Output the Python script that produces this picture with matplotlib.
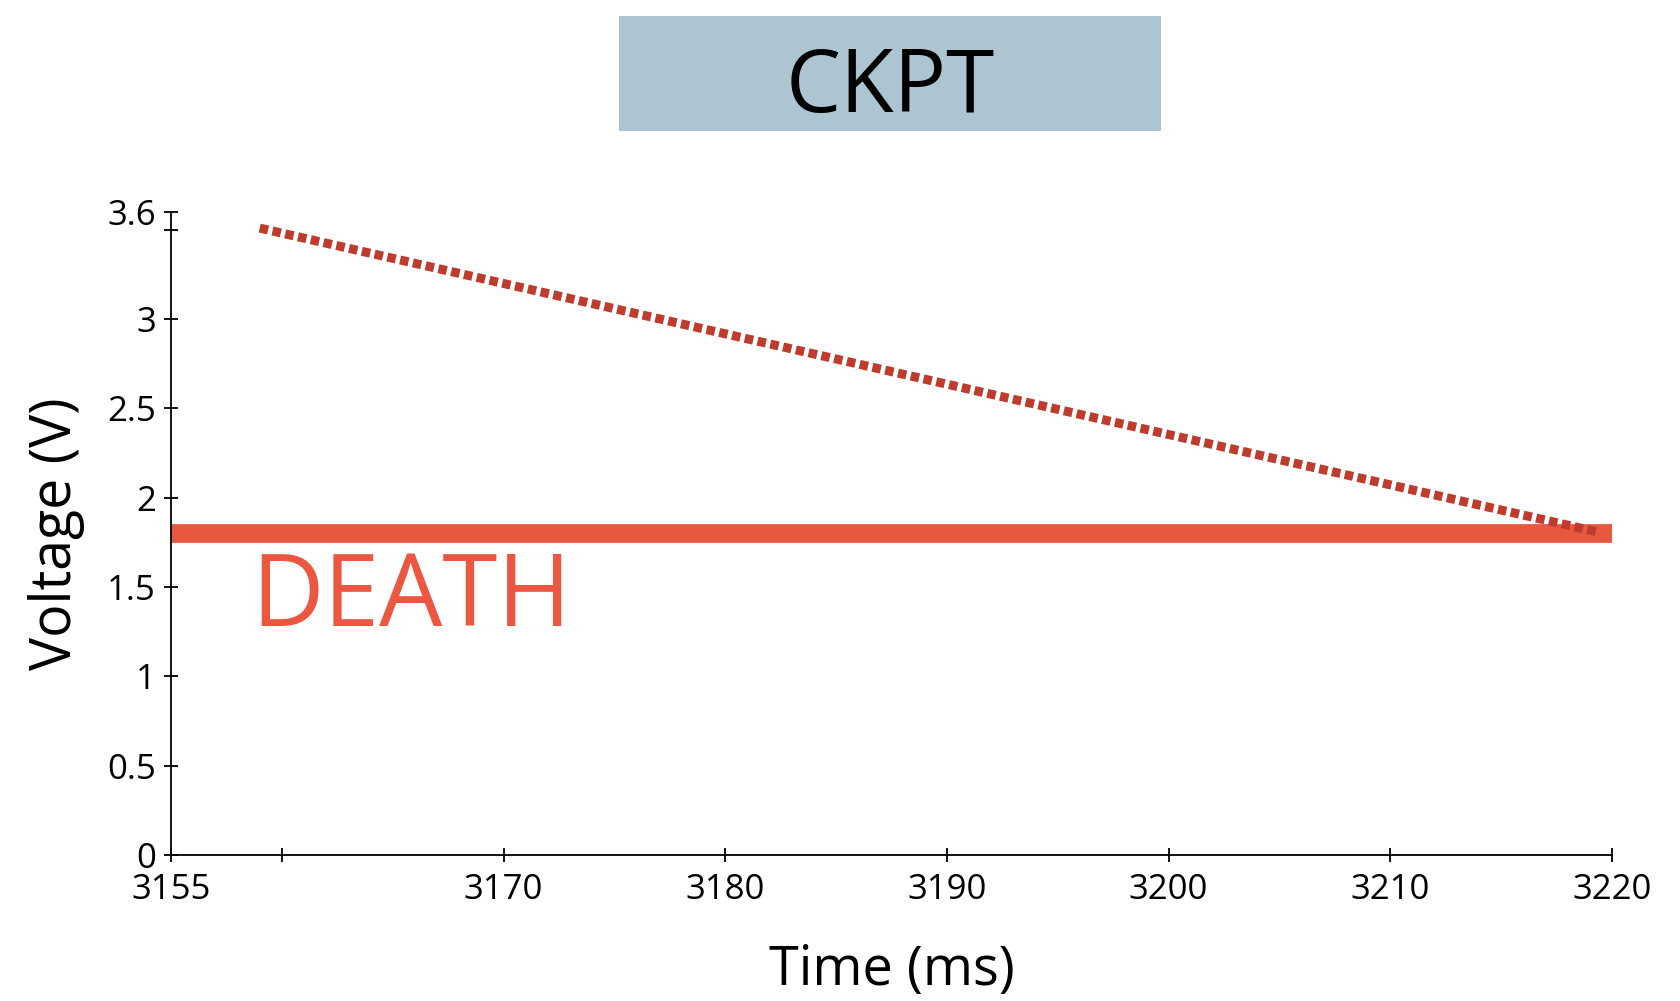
#!/usr/bin/env python3
import matplotlib
matplotlib.use("Agg")
import matplotlib.pyplot as plt

# Data
ckpt_time = [3159.0, 3219.3]
ckpt_voltage = [3.51, 1.81]
death_time = [3155, 3220]
death_voltage = [1.8, 1.8]

x_ticks = [3155, 3160, 3170, 3180, 3190, 3200, 3210, 3220]
x_labels = ["3155", "", "3170", "3180", "3190", "3200", "3210", "3220"]
y_ticks = [0, 0.5, 1, 1.5, 2, 2.5, 3, 3.5, 3.6]
y_labels = ["0", "0.5", "1", "1.5", "2", "2.5", "3", "", "3.6"]


def main():
    plt.rcParams['font.family'] = ['Open Sans', 'DejaVu Sans']

    fig = plt.figure(figsize=(16.8, 10.01), dpi=100)
    ax = fig.add_axes([0.1018, 0.1459, 0.8577, 0.6423])

    # Death threshold band
    ax.plot(death_time, death_voltage, color="#e9573f", linewidth=13.5,
            solid_capstyle="butt", zorder=2)

    # Checkpoint voltage decay
    ax.plot(ckpt_time, ckpt_voltage, color="#be3c2d", linewidth=6.5,
            linestyle=(0, (0.95, 0.5)), dash_capstyle="butt", zorder=3)

    ax.text(3158.6, 1.28, "DEATH", color="#eb5741", fontsize=72,
            ha="left", va="baseline")

    ax.set_xlim(3155, 3220)
    ax.set_ylim(0, 3.6)
    ax.set_xticks(x_ticks)
    ax.set_xticklabels(x_labels)
    ax.set_yticks(y_ticks)
    ax.set_yticklabels(y_labels)
    ax.tick_params(direction="inout", length=10, width=1.3, labelsize=25,
                   pad=6)
    ax.tick_params(axis="x", pad=8)

    for side in ("top", "right"):
        ax.spines[side].set_visible(False)
    for side in ("left", "bottom"):
        ax.spines[side].set_linewidth(1.3)

    ax.set_xlabel("Time (ms)", fontsize=39, labelpad=26)
    ax.set_ylabel("Voltage (V)", fontsize=40, labelpad=16)

    # Title box
    fig.patches.append(plt.Rectangle((619 / 1680, 1 - 131 / 1001),
                                     542 / 1680, 115 / 1001,
                                     transform=fig.transFigure,
                                     facecolor="#acc5d0", edgecolor="none"))
    fig.text(890 / 1680, 1 - 112 / 1001, "CKPT", fontsize=63,
             ha="center", va="baseline", color="black")

    fig.savefig("out.png", dpi=100)


if __name__ == "__main__":
    main()
